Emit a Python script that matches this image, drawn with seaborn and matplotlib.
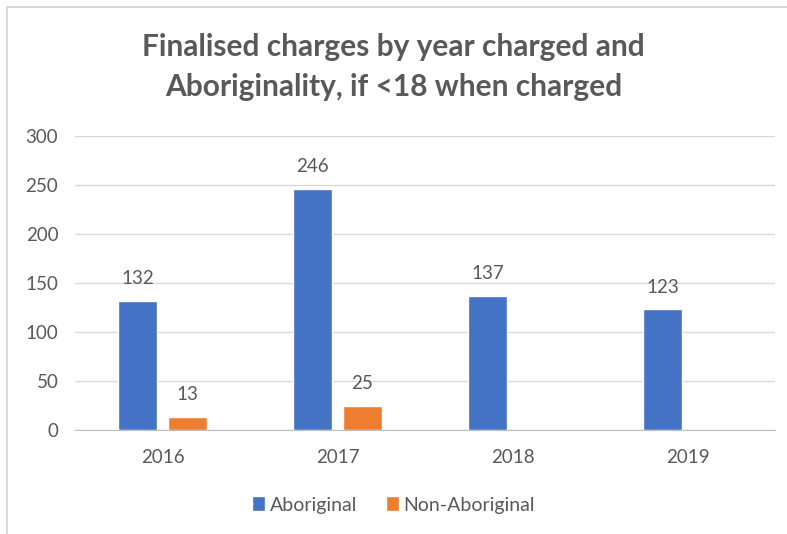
import numpy as np
import pandas as pd
import matplotlib
matplotlib.use('Agg')
import matplotlib.pyplot as plt
import seaborn as sns
from matplotlib.patches import Rectangle

years = ['2016', '2017', '2018', '2019']
aboriginal = [132, 246, 137, 123]
non_aboriginal = [13, 25, np.nan, np.nan]
series = ['Aboriginal', 'Non-Aboriginal']
colours = ['#4472C4', '#ED7D31']
y_ticks = [0, 50, 100, 150, 200, 250, 300]

df = pd.DataFrame({
    'year': years * 2,
    'group': [series[0]] * 4 + [series[1]] * 4,
    'value': aboriginal + non_aboriginal,
})

sns.set_style('white')
plt.rcParams['font.family'] = ['Lato', 'DejaVu Sans']
txt = '#595959'

fig = plt.figure(figsize=(7.87, 5.34), dpi=100)
ax = fig.add_axes([75 / 787, 1 - 430 / 534, 700 / 787, 294 / 534])

sns.barplot(data=df, x='year', y='value', hue='group', palette=colours, saturation=1,
            width=0.571, gap=0.22, ax=ax, legend=True)

for cont in ax.containers:
    labels = ['' if np.isnan(b.get_height()) else f'{b.get_height():.0f}' for b in cont]
    ax.bar_label(cont, labels=labels, padding=10, fontsize=13.5, color=txt)

ax.set_ylim(0, 300)
ax.set_xlim(-0.5, 3.5)
ax.set_yticks(y_ticks)
ax.yaxis.grid(True, color='#D9D9D9', linewidth=1)
ax.set_axisbelow(True)
for s in ['top', 'right', 'left']:
    ax.spines[s].set_visible(False)
ax.spines['bottom'].set_color('#BFBFBF')
ax.tick_params(axis='both', length=0, labelsize=13.5, labelcolor=txt)
ax.tick_params(axis='x', pad=14)
ax.tick_params(axis='y', pad=12)
ax.set_xlabel('')
ax.set_ylabel('')

leg = ax.legend(loc='center', bbox_to_anchor=(0.5, 1 - 505 / 534), bbox_transform=fig.transFigure,
                ncol=2, frameon=False, fontsize=14, handlelength=0.65, handleheight=0.8,
                handletextpad=0.25, columnspacing=1.5)
for t in leg.get_texts():
    t.set_color(txt)

fig.text(0.5, 1 - 47 / 534, 'Finalised charges by year charged and', ha='center', va='center',
         fontsize=21.5, fontweight='bold', color=txt)
fig.text(0.5, 1 - 87 / 534, 'Aboriginality, if <18 when charged', ha='center', va='center',
         fontsize=21.5, fontweight='bold', color=txt)

fig.patches.append(Rectangle((7 / 787, -0.1), 1.2, 1 - 7 / 534 + 0.1, transform=fig.transFigure,
                             fill=False, edgecolor='#D9D9D9', linewidth=1.5))

fig.savefig('out.png', dpi=100)
